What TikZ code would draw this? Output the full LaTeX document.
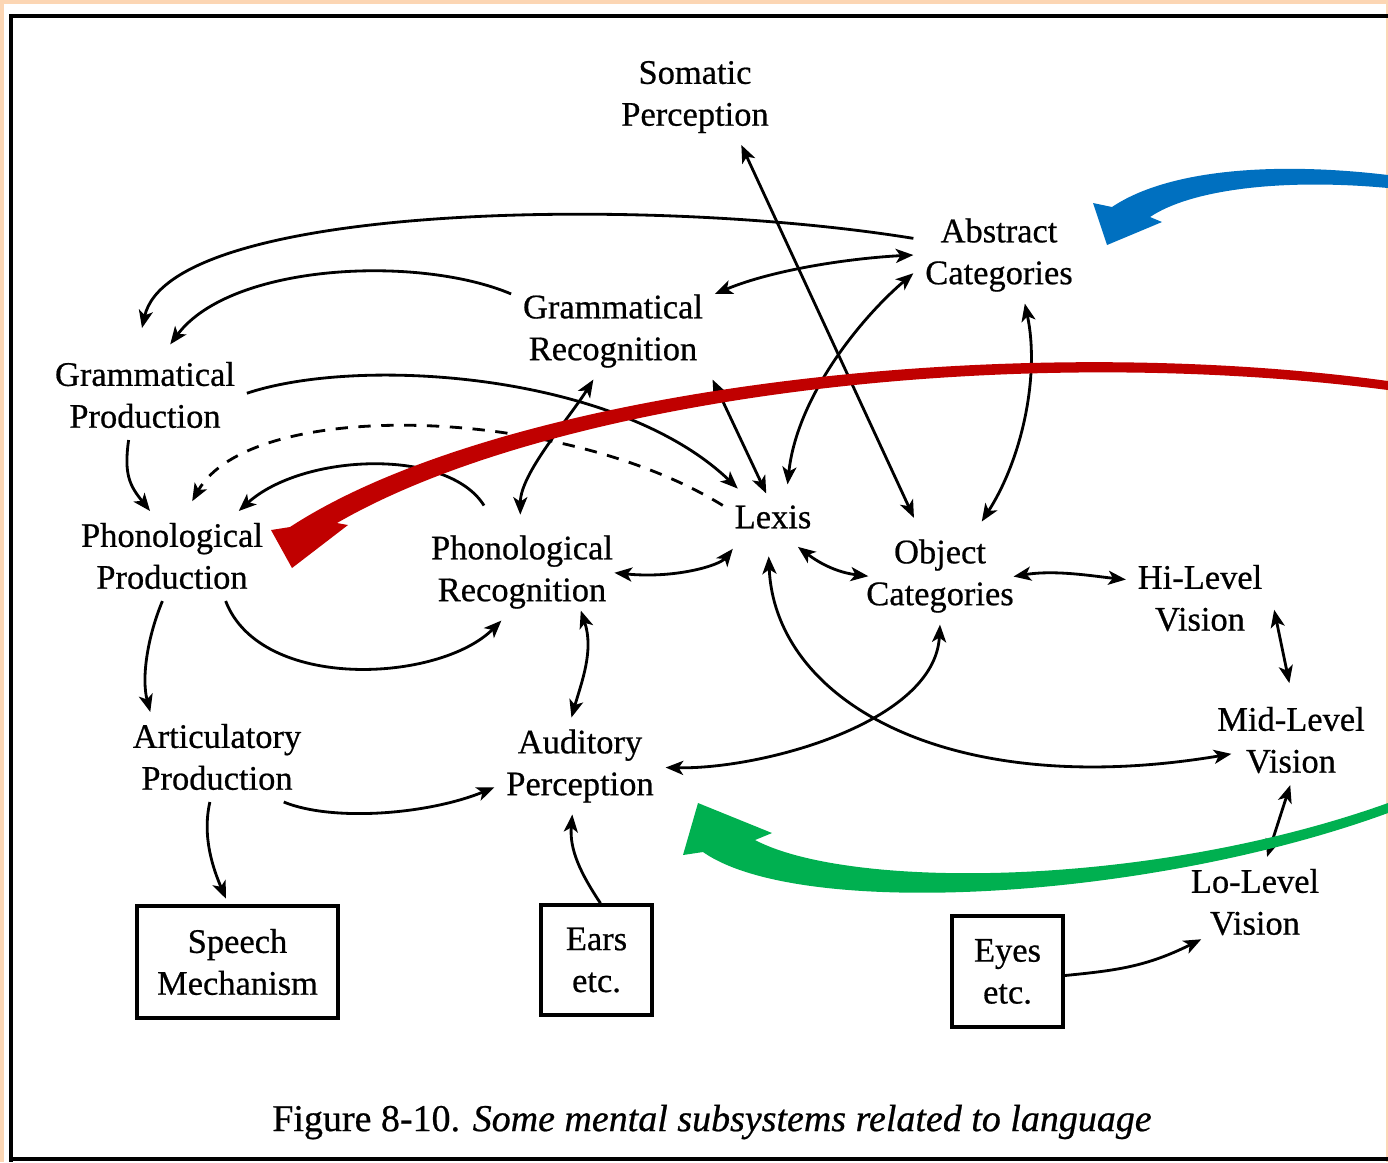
\documentclass[tikz,border=0pt]{standalone}
\usepackage{fontspec}
\setmainfont{Liberation Serif}[FakeBold=0.6]
\usetikzlibrary{arrows.meta}
\definecolor{peach}{RGB}{252,214,180}
\definecolor{hlblue}{RGB}{0,112,192}
\definecolor{hlred}{RGB}{192,0,0}
\definecolor{hlgreen}{RGB}{0,176,80}
\tikzset{
  lbl/.style={align=center,inner sep=3pt,font=\fontsize{9.8}{11.9}\selectfont},
  boxed/.style={draw,line width=1pt,align=center,inner sep=0pt,font=\fontsize{9.8}{11.9}\selectfont},
}
\begin{document}
\begin{tikzpicture}[x=0.01cm,y=0.01cm,line width=0.8pt,>={Stealth[length=5pt,width=4pt,inset=1.3pt]}]
    \useasboundingbox (0,0) rectangle (1388,-1162);
    % page and frame
    \fill[peach] (0,0) rectangle (1388,-1162);
    \fill[white] (4,-4) rectangle (1386,-1162);
    \draw[line width=0.9pt] (1388,-16) -- (11,-16) -- (11,-1162);
    \draw[line width=0.9pt] (11,-1159) -- (1388,-1159);
    % subsystems
    \node[lbl] (sp) at (695,-97) {Somatic\\Perception};
    \node[lbl] (ac) at (999,-255) {Abstract\\Categories};
    \node[lbl] (gr) at (613,-331) {Grammatical\\Recognition};
    \node[lbl] (gp) at (145,-395) {Grammatical\\Production};
    \node[lbl] (pp) at (172,-556) {Phonological\\Production};
    \node[lbl] (pr) at (522,-572) {Phonological\\Recognition};
    \node[lbl] (lx) at (773,-517) {Lexis};
    \node[lbl] (oc) at (940,-576) {Object\\Categories};
    \node[lbl] (hv) at (1200,-598) {Hi-Level\\Vision};
    \node[lbl] (mv) at (1291,-740) {Mid-Level\\Vision};
    \node[lbl] (lv) at (1255,-902) {Lo-Level\\Vision};
    \node[lbl] (ap) at (217,-757) {Articulatory\\Production};
    \node[lbl] (au) at (580,-766) {Auditory\\Perception};
    \node[boxed,minimum width=2.01cm,minimum height=1.12cm] (sm) at (237.5,-962) {Speech\\Mechanism};
    \node[boxed,minimum width=1.11cm,minimum height=1.10cm] (ea) at (596.5,-960) {Ears\\etc.};
    \node[boxed,minimum width=1.11cm,minimum height=1.11cm] (ey) at (1007.5,-971.5) {Eyes\\etc.};
    \node[font=\fontsize{10.8}{13}\selectfont] (cap) at (712,-1122) {Figure 8-10. \textit{Some mental subsystems related to language}};
    % connections
    \draw[->,shorten >=6.4pt] (ac.169) .. controls +(-265,43) and +(33,147) .. (gp.100);
    \draw[->,shorten >=2pt] (gr.160) .. controls +(-92,39) and +(65,87) .. (gp.65);
    \draw[<->] (gr.20) .. controls +(60,25) and +(-60,-3) .. (ac.west);
    \draw[<->,shorten >=3pt] (sp.-46) -- (oc.114);
    \draw[<->,shorten <=2.6pt] (lx.60) .. controls +(10,95) and +(-55,-47) .. (ac.192);
    \draw[<->,shorten >=2pt] (ac.-62) .. controls +(15,-70) and +(45,70) .. (oc.52);
    \draw[<->] (gr.-26) -- (lx.106);
    \draw[->,shorten >=2pt] (gp.1) .. controls +(114,38) and +(-125,120) .. (lx.142);
    \draw[->,dash pattern=on 3.5pt off 3pt,shorten >=3.2pt] (lx.167) .. controls +(-164,101) and +(64,113) .. (pp.72);
    \draw[->] (gp.-110) .. controls +(-5,-35) and +(-20,25) .. (pp.116);
    \draw[->,shorten <=6pt] (pr.119) .. controls +(-47,76) and +(64,58) .. (pp.34);
    \draw[<->,shorten >=2.5pt] (gr.-112) .. controls +(-25,-40) and +(0,50) .. (pr.92);
    \draw[<->,shorten <=3pt,shorten >=-3pt] (lx.-145) .. controls +(-20,-25) and +(50,-5) .. (pr.-1);
    \draw[<->,shorten <=3pt,shorten >=-4pt] (lx.-55) .. controls +(20,-15) and +(-25,3) .. (oc.179);
    \draw[<->,shorten <=-3.5pt] (oc.1) .. controls +(30,5) and +(-30,3) .. (hv.166);
    \draw[<->,shorten >=3.4pt] (hv.-9) -- (mv.89);
    \draw[<->] (mv.-91) -- (lv.75);
    \draw[<->,shorten <=4.5pt,shorten >=-7.5pt] (lx.-102) .. controls +(7,-161) and +(-256,-43) .. (mv.192);
    \draw[<->] (oc.south) .. controls +(-5,-98) and +(96,-2) .. (au.-1);
    \draw[->] (pp.-40) .. controls +(35,-91) and +(-62,-62) .. (pr.-113);
    \draw[->] (pp.-102) .. controls +(-15,-36) and +(-9,34) .. (ap.146);
    \draw[<->,shorten <=-3pt] (pr.-38) .. controls +(10,-30) and +(10,35) .. (au.100);
    \draw[->] (ap.-34) .. controls +(49,-20) and +(-66,-27) .. (au.194);
    \draw[->,shorten >=1.7pt] (ap.-99) .. controls +(-8,-35) and +(-15,35) .. (sm.99);
    \draw[->] (ea.86) .. controls +(-20,30) and +(-3,-35) .. (au.-99);
    \draw[->,shorten >=-5pt] (ey.-4) .. controls +(50,5) and +(-40,-20) .. (lv.213);
    % highlight arrows
    \fill[hlblue] (1112,-207) -- (1093,-203) -- (1107,-245) -- (1162,-222) -- (1150,-217)
        .. controls (1190,-190) and (1280,-178) .. (1388,-188) -- (1388,-175)
        .. controls (1280,-162) and (1170,-168) .. cycle;
    \fill[hlred] (290,-527) -- (271,-530) -- (292,-568) -- (348,-525) -- (337,-523)
        .. controls (550,-400) and (1000,-340) .. (1388,-390) -- (1388,-381)
        .. controls (1000,-328) and (500,-390) .. cycle;
    \fill[hlgreen] (703,-852) -- (683,-855) -- (698,-803) -- (772,-833) -- (755,-840)
        .. controls (850,-890) and (1150,-888) .. (1388,-803) -- (1388,-813)
        .. controls (1150,-900) and (800,-920) .. cycle;
\end{tikzpicture}
\end{document}
